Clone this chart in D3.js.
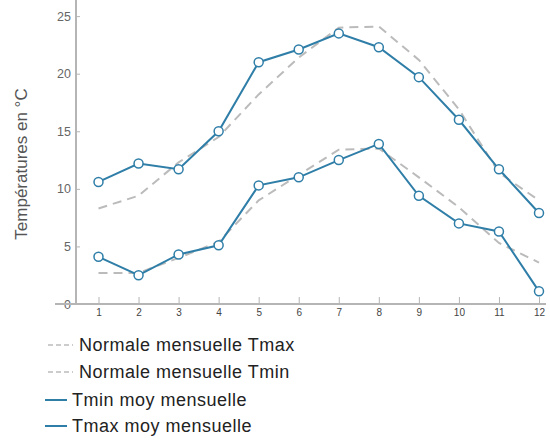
<!DOCTYPE html>
<html><head><meta charset="utf-8">
<script src="https://cdn.jsdelivr.net/npm/d3@7"></script>
<style>body{margin:0;background:#fff;}svg{display:block;font-family:"Liberation Sans",Arial,sans-serif;}</style>
</head><body>
<svg id="c" width="550" height="440"></svg>
<script>
const months = [1,2,3,4,5,6,7,8,9,10,11,12];
const normTmax = [8.3,9.4,12.3,14.5,18.2,21.4,24.0,24.1,21.2,16.9,11.4,9.0];
const normTmin = [2.7,2.7,4.0,5.4,9.0,11.2,13.4,13.5,11.0,8.4,5.3,3.6];
const tminMoy = [4.1,2.5,4.3,5.1,10.3,11.0,12.5,13.9,9.4,7.0,6.3,1.1];
const tmaxMoy = [10.6,12.2,11.7,15.0,21.0,22.1,23.5,22.3,19.7,16.0,11.7,7.9];
const yTicks = [0,5,10,15,20,25];
const legendLabels = ["Normale mensuelle Tmax","Normale mensuelle Tmin","Tmin moy mensuelle","Tmax moy mensuelle"];

const svg = d3.select("#c");
const x = d3.scaleLinear().domain([1,12]).range([98.5,539]);
const y = d3.scaleLinear().domain([0,26.4]).range([304,0]);
const axisColor = "#b5b5b5";

// y axis
const gy = svg.append("g").attr("transform","translate(76,0)")
  .call(d3.axisLeft(y).tickValues(yTicks).tickSize(-4).tickPadding(5).tickFormat(d3.format("d")));
gy.select(".domain").remove();
gy.selectAll(".tick line").attr("stroke",axisColor);
gy.selectAll(".tick text").attr("fill","#666").style("font-size","12.5px");
svg.append("line").attr("x1",76).attr("x2",76).attr("y1",0).attr("y2",305).attr("stroke",axisColor).attr("stroke-width",2);

// x axis (ticks inward)
const gx = svg.append("g").attr("transform","translate(0,304)")
  .call(d3.axisBottom(x).tickValues(months).tickSize(-7).tickPadding(5).tickFormat(d3.format("d")));
gx.select(".domain").remove();
gx.selectAll(".tick line").attr("stroke",axisColor);
gx.selectAll(".tick text").attr("fill","#444").style("font-size","10px");
svg.append("line").attr("x1",55).attr("x2",546).attr("y1",304).attr("y2",304).attr("stroke",axisColor).attr("stroke-width",2);

svg.append("text").attr("transform","translate(27,164) rotate(-90)").attr("text-anchor","middle")
  .attr("fill","#555").style("font-size","17px").text("Températures en °C");

const line = d3.line().x((d,i)=>x(months[i])).y(d=>y(d));
const blue = "#2f7ea8";
[normTmax,normTmin].forEach(s=>{
  svg.append("path").datum(s).attr("d",line).attr("fill","none").attr("stroke","#bbb")
    .attr("stroke-width",2).attr("stroke-dasharray","9,6");
});
[tminMoy,tmaxMoy].forEach(s=>{
  svg.append("path").datum(s).attr("d",line).attr("fill","none").attr("stroke",blue).attr("stroke-width",2);
  svg.selectAll(null).data(s).enter().append("circle")
    .attr("cx",(d,i)=>x(months[i])).attr("cy",d=>y(d)).attr("r",4.5)
    .attr("fill","#fff").attr("stroke",blue).attr("stroke-width",1.5);
});

// legend
const lb = [351,378,406,432];
legendLabels.forEach((t,i)=>{
  const dashed = i<2;
  const g = svg.append("g");
  const sy = lb[i]-6;
  if(dashed){
    g.append("line").attr("x1",48).attr("x2",73).attr("y1",sy).attr("y2",sy)
      .attr("stroke","#ccc").attr("stroke-width",2).attr("stroke-dasharray","5,3");
  } else {
    g.append("line").attr("x1",45).attr("x2",67).attr("y1",sy).attr("y2",sy)
      .attr("stroke",blue).attr("stroke-width",2);
  }
  g.append("text").attr("x",dashed?79:72).attr("y",lb[i]).attr("fill","#222")
    .style("font-size","18px").style("letter-spacing","0.5px").text(t);
});
</script>
</body></html>
